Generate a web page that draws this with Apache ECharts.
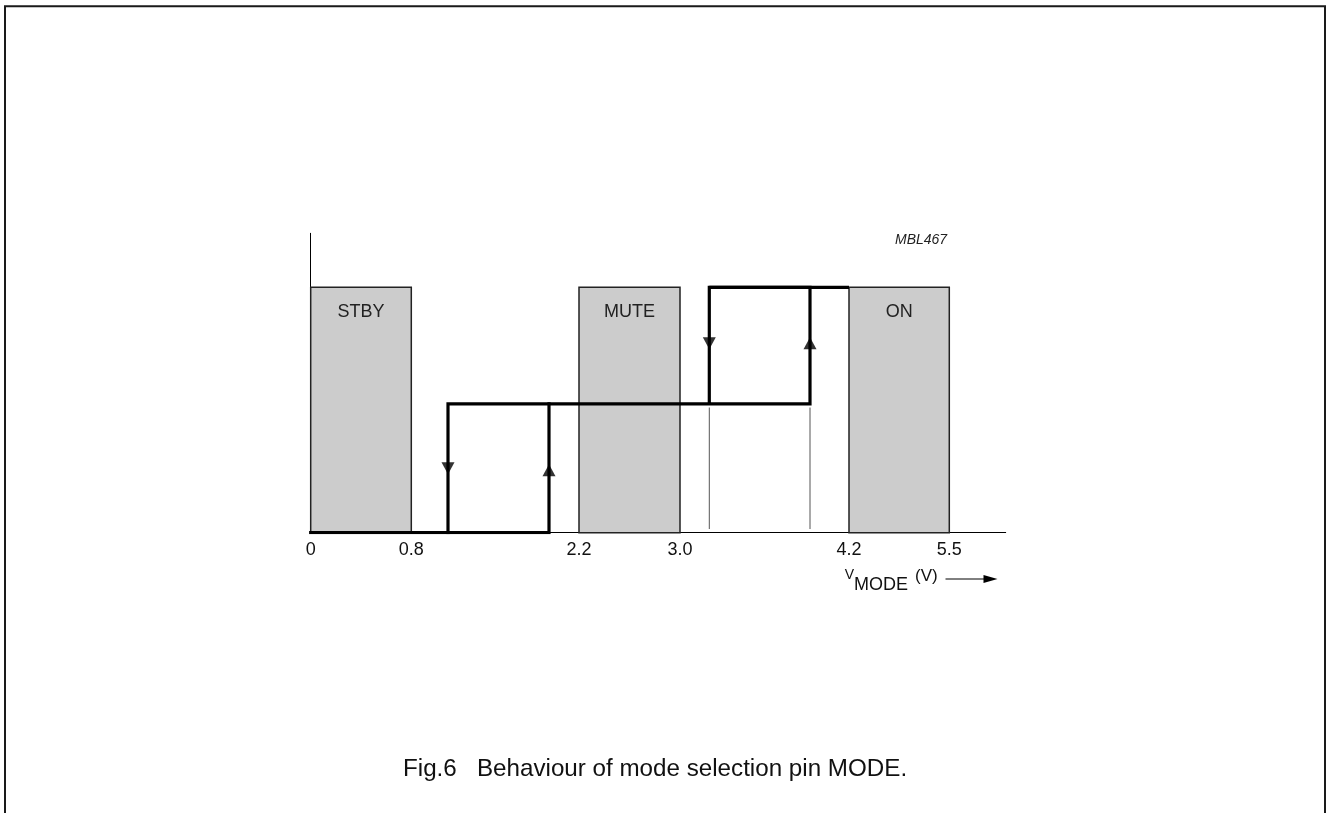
<!DOCTYPE html>
<html>
<head>
<meta charset="utf-8">
<script src="https://cdn.jsdelivr.net/npm/echarts@6/dist/echarts.min.js"></script>
<style>
html,body{margin:0;padding:0;background:#fff;}
#chart{width:1326px;height:813px;}
</style>
</head>
<body>
<div id="chart"></div>
<script>
// Schematic (non-linear) x positions of the voltage tick labels
const tickLabels = ['0', '0.8', '2.2', '3.0', '4.2', '5.5'];
const tickPos = [0, 1.006, 2.683, 3.693, 5.383, 6.386];
const axisEnd = 6.95;

// Mode regions (grey blocks)
const modeNames = ['STBY', 'MUTE', 'ON'];
const modeStart = [0, 2.683, 5.383];
const modeEnd = [1.006, 3.693, 6.386];
const levelHigh = 2;
const levelMid = 1.05;
const yMax = 2.44;

// Hysteresis paths (schematic units)
const lowPath = [[0, 0], [2.383, 0], [2.383, 1.05]];
const loopPath = [[1.373, 0], [1.373, 1.05], [4.993, 1.05], [4.993, 2], [3.986, 2], [3.986, 1.05]];
const topPath = [[3.986, 2], [5.383, 2]];
const guideA = [[3.986, 0.03], [3.986, 1.02]];
const guideB = [[4.993, 0.03], [4.993, 1.02]];
const arrowsDown = [[1.373, 0.525], [3.986, 1.544]];
const arrowsUp = [[2.383, 0.508], [4.993, 1.544]];

const FONT = 'Liberation Sans, Arial, Helvetica, sans-serif';
const chart = echarts.init(document.getElementById('chart'), null, {renderer: 'canvas'});

const blockData = modeNames.map((n, i) => [modeStart[i], modeEnd[i], levelHigh, n]);

const option = {
  backgroundColor: '#ffffff',
  animation: false,
  title: [
    {
      text: 'Fig.6   Behaviour of mode selection pin MODE.',
      left: 403, top: 757, padding: 0,
      textStyle: {fontFamily: FONT, fontSize: 24.2, fontWeight: 'normal', color: '#111'}
    },
    {
      text: 'MBL467',
      left: 895, top: 233, padding: 0,
      textStyle: {fontFamily: FONT, fontSize: 14, fontStyle: 'italic', fontWeight: 'normal', color: '#222'}
    }
  ],
  grid: {left: 310.7, top: 233.3, width: 695, height: 299.4, containLabel: false},
  xAxis: {
    type: 'value', min: 0, max: axisEnd,
    name: '{v|V}{m|MODE}{p|(V)}',
    nameLocation: 'end',
    nameGap: -68,
    nameTextStyle: {
      align: 'right', verticalAlign: 'top', padding: [35, 0, 0, 0],
      rich: {
        v: {fontFamily: FONT, fontSize: 14, color: '#111', verticalAlign: 'top', lineHeight: 26},
        m: {fontFamily: FONT, fontSize: 18, color: '#111', verticalAlign: 'bottom', lineHeight: 26},
        p: {fontFamily: FONT, fontSize: 17, color: '#111', verticalAlign: 'top', lineHeight: 26, padding: [0, 0, 0, 7]}
      }
    },
    axisLine: {show: true, lineStyle: {color: '#000', width: 1}},
    axisTick: {show: false},
    splitLine: {show: false},
    axisLabel: {
      customValues: tickPos,
      margin: 8,
      fontFamily: FONT, fontSize: 18, color: '#111',
      formatter: function (v) {
        let best = 0;
        for (let i = 1; i < tickPos.length; i++) {
          if (Math.abs(tickPos[i] - v) < Math.abs(tickPos[best] - v)) best = i;
        }
        return tickLabels[best];
      }
    }
  },
  yAxis: {
    type: 'value', min: 0, max: yMax,
    axisLine: {show: true, lineStyle: {color: '#000', width: 1}},
    axisTick: {show: false},
    axisLabel: {show: false},
    splitLine: {show: false}
  },
  graphic: [
    {
      type: 'rect', silent: true, z: 100,
      shape: {x: 5, y: 6.3, width: 1320, height: 900},
      style: {fill: 'none', stroke: '#1a1a1a', lineWidth: 2}
    },
    {
      type: 'group', left: 943, top: 575, silent: true,
      children: [
        {type: 'line', shape: {x1: 0, y1: 4, x2: 42, y2: 4}, style: {stroke: '#000', lineWidth: 1}},
        {type: 'polygon', shape: {points: [[38, 0], [52, 4], [38, 8]]}, style: {fill: '#000'}}
      ]
    }
  ],
  series: [
    {
      type: 'custom', name: 'modes', z: 1,
      data: blockData,
      encode: {x: [0, 1], y: 2},
      renderItem: function (params, api) {
        const p0 = api.coord([api.value(0), api.value(2)]);
        const p1 = api.coord([api.value(1), 0]);
        const name = modeNames[params.dataIndex];
        return {
          type: 'group',
          children: [
            {
              type: 'rect',
              shape: {x: p0[0], y: p0[1], width: p1[0] - p0[0], height: p1[1] - p0[1]},
              style: {fill: '#cccccc', stroke: '#222222', lineWidth: 1.5}
            },
            {
              type: 'text',
              style: {
                text: name, x: (p0[0] + p1[0]) / 2, y: p0[1] + 25,
                align: 'center', verticalAlign: 'middle',
                font: '18px ' + FONT, fill: '#222'
              }
            }
          ]
        };
      }
    },
    {
      type: 'line', name: 'guideA', data: guideA, showSymbol: false, z: 2,
      lineStyle: {color: '#555', width: 1}
    },
    {
      type: 'line', name: 'guideB', data: guideB, showSymbol: false, z: 2,
      lineStyle: {color: '#555', width: 1}
    },
    {
      type: 'line', name: 'low', data: lowPath, showSymbol: false, z: 3,
      lineStyle: {color: '#000', width: 3.2, join: 'miter', cap: 'square'}
    },
    {
      type: 'line', name: 'loop', data: loopPath, showSymbol: false, z: 3,
      lineStyle: {color: '#000', width: 3.2, join: 'miter', cap: 'square'}
    },
    {
      type: 'line', name: 'top', data: topPath, showSymbol: false, z: 3,
      lineStyle: {color: '#000', width: 3.2, join: 'miter', cap: 'butt'}
    },
    {
      type: 'scatter', name: 'down', data: arrowsDown, z: 4,
      symbol: 'triangle', symbolSize: [13, 12], symbolRotate: 180,
      itemStyle: {color: '#000'}
    },
    {
      type: 'scatter', name: 'up', data: arrowsUp, z: 4,
      symbol: 'triangle', symbolSize: [13, 12],
      itemStyle: {color: '#000'}
    }
  ]
};
chart.setOption(option);
</script>
</body>
</html>
